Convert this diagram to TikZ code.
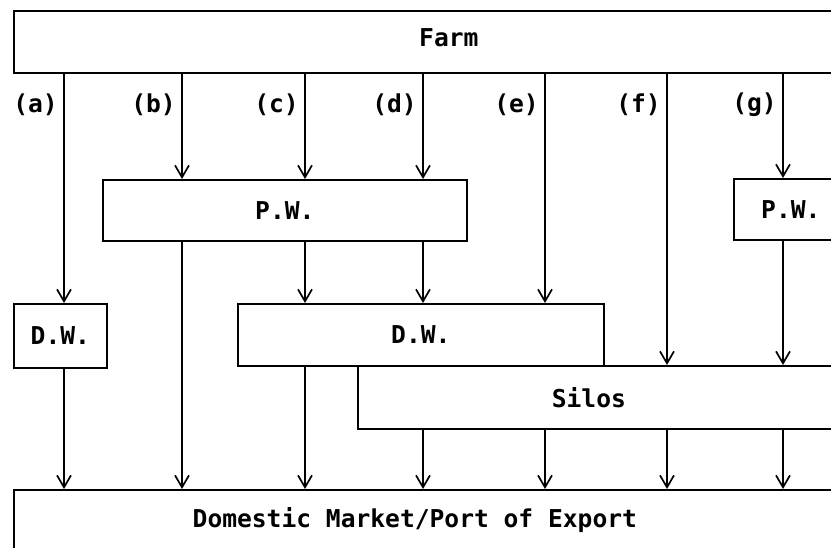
\documentclass[tikz,border=0pt]{standalone}
\usepackage{fontspec}
\setmonofont{DejaVu Sans Mono}
\usetikzlibrary{arrows.meta}

\tikzset{
  box/.style={draw, line width=1.7pt, inner sep=0pt, anchor=north west},
  lbl/.style={inner sep=0pt},
  flow/.style={line width=1.7pt, -{Straight Barb[length=12pt,width=14pt]}},
}

\begin{document}
\begin{tikzpicture}[x=1pt,y=-1pt,font=\ttfamily\bfseries\fontsize{24.6}{28}\selectfont]
    \useasboundingbox (0,0) rectangle (831,548);
    \clip (0,0) rectangle (831,548);

    % boxes
    \node[box, minimum width=870pt, minimum height=62pt,
          label={[lbl,yshift=4pt]center:Farm}] (farm) at (13,10) {};
    \node[box, minimum width=364pt, minimum height=61pt] (pwl) at (102,179) {P.W.};
    \node[box, minimum width=114pt, minimum height=61pt] (pwr) at (733,178) {P.W.};
    \node[box, minimum width=93pt, minimum height=64pt] (dwa) at (13,303) {D.W.};
    \node[box, minimum width=366pt, minimum height=62pt] (dwb) at (237,303) {D.W.};
    \node[box, minimum width=490pt, minimum height=63pt,
          label={[lbl,xshift=-14pt]center:Silos}] (silos) at (357,365) {};
    \node[box, minimum width=840pt, minimum height=60pt,
          label={[lbl,xshift=-19pt]center:Domestic Market/Port of Export}] (market) at (13,489) {};

    % columns
    \coordinate (ca) at (64,0);
    \coordinate (cb) at (182,0);
    \coordinate (cc) at (305,0);
    \coordinate (cd) at (423,0);
    \coordinate (ce) at (545,0);
    \coordinate (cf) at (667,0);
    \coordinate (cg) at (783,0);
    \coordinate (lblrow) at (0,105);

    \foreach \c in {a,b,c,d,e,f,g}
      \node[lbl, anchor=east] (l\c) at ([xshift=-6pt]c\c |- lblrow) {(\c)};

    % (a)
    \draw[flow] (farm.south -| ca) -- (dwa.north -| ca);
    \draw[flow] (dwa.south -| ca) -- (market.north -| ca);
    % (b)
    \draw[flow] (farm.south -| cb) -- (pwl.north -| cb);
    \draw[flow] (pwl.south -| cb) -- (market.north -| cb);
    % (c)
    \draw[flow] (farm.south -| cc) -- (pwl.north -| cc);
    \draw[flow] (pwl.south -| cc) -- (dwb.north -| cc);
    \draw[flow] (dwb.south -| cc) -- (market.north -| cc);
    % (d)
    \draw[flow] (farm.south -| cd) -- (pwl.north -| cd);
    \draw[flow] (pwl.south -| cd) -- (dwb.north -| cd);
    \draw[flow] (silos.south -| cd) -- (market.north -| cd);
    % (e)
    \draw[flow] (farm.south -| ce) -- (dwb.north -| ce);
    \draw[flow] (silos.south -| ce) -- (market.north -| ce);
    % (f)
    \draw[flow] (farm.south -| cf) -- (silos.north -| cf);
    \draw[flow] (silos.south -| cf) -- (market.north -| cf);
    % (g)
    \draw[flow] (farm.south -| cg) -- (pwr.north -| cg);
    \draw[flow] (pwr.south -| cg) -- (silos.north -| cg);
    \draw[flow] (silos.south -| cg) -- (market.north -| cg);
\end{tikzpicture}
\end{document}
